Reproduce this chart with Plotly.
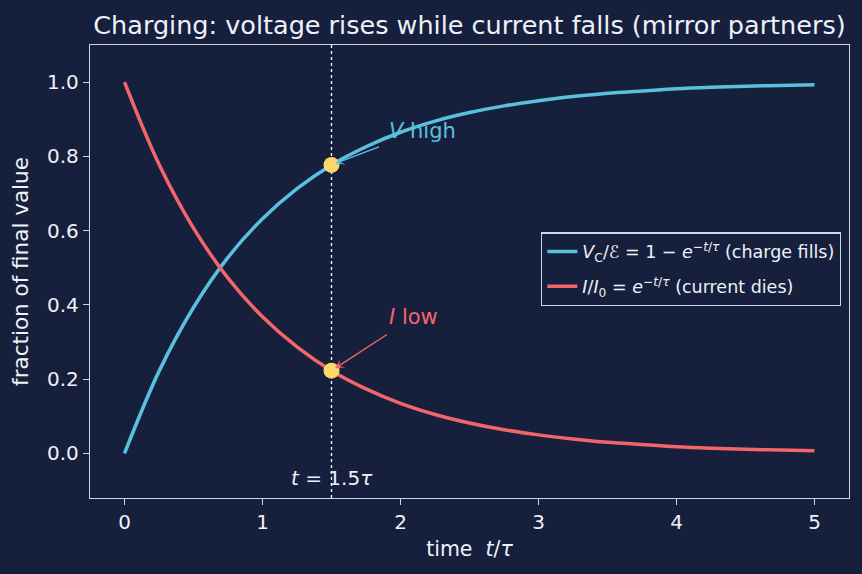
import plotly.graph_objects as go

# time in units of tau
t_vals = [0.0, 0.25, 0.5, 0.75, 1.0, 1.25, 1.5, 1.75, 2.0, 2.25, 2.5, 2.75, 3.0,
          3.25, 3.5, 3.75, 4.0, 4.25, 4.5, 4.75, 5.0]
# capacitor voltage fraction V_C / emf
v_frac = [0.000, 0.221, 0.393, 0.528, 0.632, 0.713, 0.777, 0.826, 0.865, 0.895, 0.918,
          0.936, 0.950, 0.961, 0.970, 0.976, 0.982, 0.986, 0.989, 0.991, 0.993]
# current fraction I / I0
i_frac = [1.000, 0.779, 0.607, 0.472, 0.368, 0.287, 0.223, 0.174, 0.135, 0.105, 0.082,
          0.064, 0.050, 0.039, 0.030, 0.024, 0.018, 0.014, 0.011, 0.009, 0.007]

t_mark = 1.5
v_mark = 0.777
i_mark = 0.223

x_ticks = [0, 1, 2, 3, 4, 5]
y_ticks = [0.0, 0.2, 0.4, 0.6, 0.8, 1.0]

BG = "#16203d"
FG = "#eef1f7"
AX = "#cfd6e2"
CYAN = "#5bc0de"
RED = "#f2666a"
YEL = "#fbd86b"
FONT = "DejaVu Sans"

fig = go.Figure()
fig.add_trace(go.Scatter(
    x=t_vals, y=v_frac, mode="lines", line=dict(color=CYAN, width=3.5, shape="spline"),
    name="<i>V</i><sub>C</sub>/ℰ = 1 − <i>e</i><sup>−<i>t</i>/<i>τ</i></sup> (charge fills)",
    legendgroup="a"))
fig.add_trace(go.Scatter(
    x=t_vals, y=i_frac, mode="lines", line=dict(color=RED, width=3.5, shape="spline"),
    name="<i>I</i>/<i>I</i><sub>0</sub> = <i>e</i><sup>−<i>t</i>/<i>τ</i></sup> (current dies)",
    legendgroup="b"))
fig.add_trace(go.Scatter(
    x=[t_mark, t_mark], y=[v_mark, i_mark], mode="markers",
    marker=dict(color=YEL, size=16, line=dict(width=0)), showlegend=False))

fig.add_shape(type="line", x0=t_mark, x1=t_mark, y0=0, y1=1, xref="x", yref="paper",
              line=dict(color="#ffffff", width=1.3, dash="dot"), layer="below")

# arrows
fig.add_annotation(x=t_mark, y=v_mark, ax=1.855, ay=0.827, axref="x", ayref="y",
                   xref="x", yref="y", text="",
                   showarrow=True, arrowhead=3, arrowsize=1.2, arrowwidth=1.3,
                   arrowcolor=CYAN, standoff=4)
fig.add_annotation(x=t_mark, y=i_mark, ax=1.913, ay=0.323, axref="x", ayref="y",
                   xref="x", yref="y", text="",
                   showarrow=True, arrowhead=3, arrowsize=1.2, arrowwidth=1.3,
                   arrowcolor=RED, standoff=4)
# labels
fig.add_annotation(x=1.9, y=0.868, xref="x", yref="y", text="<i>V</i> high",
                   xanchor="left", yanchor="middle", showarrow=False,
                   font=dict(color=CYAN, size=21, family=FONT))
fig.add_annotation(x=1.9, y=0.367, xref="x", yref="y", text="<i>I</i> low",
                   xanchor="left", yanchor="middle", showarrow=False,
                   font=dict(color=RED, size=21, family=FONT))
fig.add_annotation(x=t_mark, y=-0.065, xref="x", yref="y",
                   text="<i>t</i> = 1.5<i>τ</i>", showarrow=False,
                   font=dict(color=FG, size=20, family=FONT))

fig.update_layout(
    width=862, height=574,
    paper_bgcolor=BG, plot_bgcolor=BG,
    margin=dict(l=89.5, r=13, t=44.7, b=76.3),
    font=dict(family=FONT, color=FG, size=20),
    title=dict(text="Charging: voltage rises while current falls (mirror partners)",
               x=0.5, xref="paper", xanchor="center",
               y=1 - 25 / 574, yref="container", yanchor="middle",
               font=dict(size=25.5, color=FG, family=FONT)),
    xaxis=dict(range=[-0.25, 5.25], tickvals=x_ticks, ticktext=[str(v) for v in x_ticks],
               showgrid=False, zeroline=False, showline=True, mirror=True,
               linecolor=AX, linewidth=1.3, ticks="outside", ticklen=6, tickwidth=1.3,
               tickcolor=AX, tickfont=dict(size=20, color=FG),
               title=dict(text="time  <i>t</i>/<i>τ</i>", font=dict(size=20.5, color=FG), standoff=8)),
    yaxis=dict(range=[-0.12, 1.1], tickvals=y_ticks, ticktext=[f"{v:.1f}" for v in y_ticks],
               showgrid=False, zeroline=False, showline=True, mirror=True,
               linecolor=AX, linewidth=1.3, ticks="outside", ticklen=6, tickwidth=1.3,
               tickcolor=AX, tickfont=dict(size=20, color=FG),
               title=dict(text="fraction of final value", font=dict(size=21.5, color=FG), standoff=12)),
    legend=dict(x=0.9895, xanchor="right", y=0.505, yanchor="middle",
                bgcolor=BG, bordercolor=AX, borderwidth=1.3,
                font=dict(size=17.5, color=FG), tracegroupgap=9, traceorder="grouped"),
)

fig.write_html("out.html")
